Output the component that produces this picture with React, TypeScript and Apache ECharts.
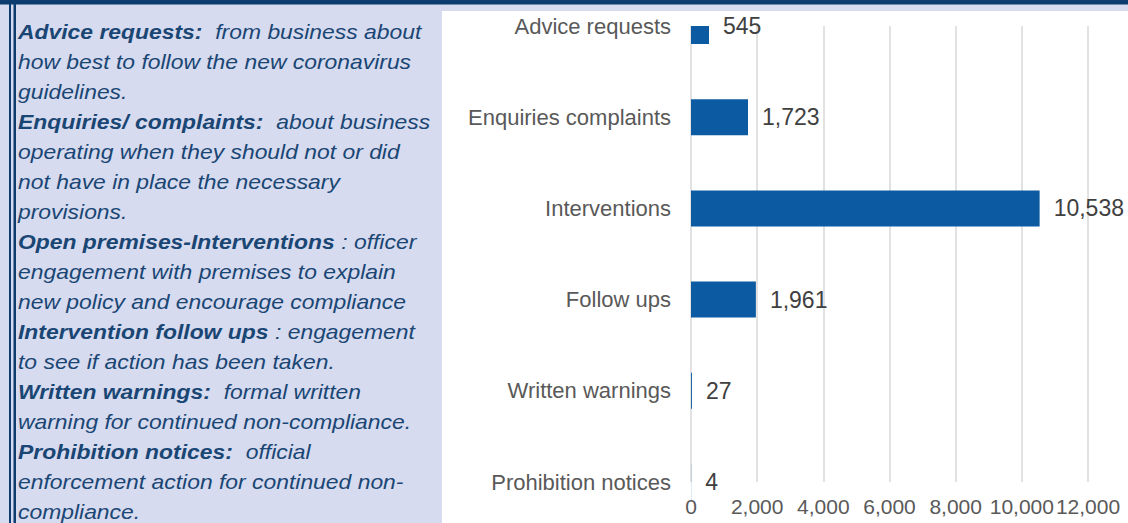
import React, { useEffect, useRef } from "react";
import * as echarts from "echarts";

const categories = [
  "Advice requests",
  "Enquiries complaints",
  "Interventions",
  "Follow ups",
  "Written warnings",
  "Prohibition notices",
];
const values = [545, 1723, 10538, 1961, 27, 4];
const xTicks = { min: 0, max: 12000, interval: 2000 };

const panelLines: [string, string][] = [
  ["Advice requests:", "  from business about"],
  ["", "how best to follow the new coronavirus"],
  ["", "guidelines."],
  ["Enquiries/ complaints:", "  about business"],
  ["", "operating when they should not or did"],
  ["", "not have in place the necessary"],
  ["", "provisions."],
  ["Open premises-Interventions", " : officer"],
  ["", "engagement with premises to explain"],
  ["", "new policy and encourage compliance"],
  ["Intervention follow ups", " : engagement"],
  ["", "to see if action has been taken."],
  ["Written warnings:", "  formal written"],
  ["", "warning for continued non-compliance."],
  ["Prohibition notices:", "  official"],
  ["", "enforcement action for continued non-"],
  ["", "compliance."],
];

const FONT = "'Liberation Sans', Arial, Helvetica, sans-serif";
const NAVY = "#0d3d6f";
const PANEL = "#d6dbef";
const TEXTBLUE = "#1a4674";
const BAR = "#0b5aa2";

export default function App() {
  const ref = useRef<HTMLDivElement>(null);
  useEffect(() => {
    if (!ref.current) return;
    const chart = echarts.init(ref.current, undefined, { renderer: "svg" });

    const textEls = panelLines.map(([b, n], i) => ({
      type: "text",
      x: 18,
      y: 32.5 + i * 30,
      scaleX: 1.145,
      z: 10,
      style: {
        text: (b ? `{b|${b}}` : "") + `{n|${n}}`,
        verticalAlign: "middle",
        align: "left",
        fontSize: 20,
        fontFamily: FONT,
        fontStyle: "italic",
        fill: TEXTBLUE,
        rich: {
          b: {
            fontSize: 20,
            fontFamily: FONT,
            fontStyle: "italic",
            fontWeight: "bold",
            fill: TEXTBLUE,
            color: TEXTBLUE,
          },
          n: {
            fontSize: 20,
            fontFamily: FONT,
            fontStyle: "italic",
            fontWeight: "normal",
            fill: TEXTBLUE,
            color: TEXTBLUE,
          },
        },
      },
    }));

    chart.setOption({
      animation: false,
      backgroundColor: PANEL,
      graphic: [
        {
          type: "rect",
          z: -10,
          shape: { x: 442, y: 11, width: 686, height: 512 },
          style: { fill: "#ffffff" },
        },
        // plot-area edge: hide the part of the first bar above the plot top
        {
          type: "rect",
          z: 100,
          shape: { x: 686, y: 11, width: 30, height: 15 },
          style: { fill: "#ffffff" },
        },
        {
          type: "rect",
          z: 100,
          shape: { x: 686, y: 4, width: 30, height: 7 },
          style: { fill: PANEL },
        },
        {
          type: "rect",
          z: 101,
          shape: { x: 0, y: 0, width: 1128, height: 4.5 },
          style: { fill: NAVY },
        },
        {
          type: "rect",
          z: -9,
          shape: { x: 9, y: 0, width: 2, height: 523 },
          style: { fill: NAVY },
        },
        {
          type: "rect",
          z: -9,
          shape: { x: 13.5, y: 0, width: 2.5, height: 523 },
          style: { fill: NAVY },
        },
        ...textEls,
      ],
      grid: { left: 691, right: 40, top: 26, bottom: 41, containLabel: false },
      xAxis: {
        type: "value",
        min: xTicks.min,
        max: xTicks.max,
        interval: xTicks.interval,
        axisLine: { show: false },
        axisTick: { show: false },
        splitLine: { show: true, lineStyle: { color: "#d9d9d9", width: 1.5 } },
        axisLabel: {
          color: "#595959",
          fontSize: 21,
          fontFamily: FONT,
          margin: 14,
          showMinLabel: true,
          showMaxLabel: true,
          hideOverlap: false,
          formatter: (v: number) => v.toLocaleString("en-US"),
        },
      },
      yAxis: {
        type: "category",
        data: categories,
        inverse: true,
        boundaryGap: false,
        axisLine: { show: false },
        axisTick: { show: false },
        splitLine: { show: false },
        axisLabel: {
          color: "#595959",
          fontSize: 22,
          fontFamily: FONT,
          margin: 20,
          interval: 0,
        },
      },
      series: [
        {
          type: "bar",
          barWidth: 36,
          itemStyle: { color: BAR },
          data: values,
          label: {
            show: true,
            position: "right",
            distance: 14,
            color: "#404040",
            fontSize: 23,
            fontFamily: FONT,
            formatter: (p: any) => Number(p.value).toLocaleString("en-US"),
          },
        },
      ],
    });
    return () => chart.dispose();
  }, []);

  return (
    <div
      ref={ref}
      style={{ position: "fixed", left: 0, top: 0, width: 1128, height: 523 }}
    />
  );
}
